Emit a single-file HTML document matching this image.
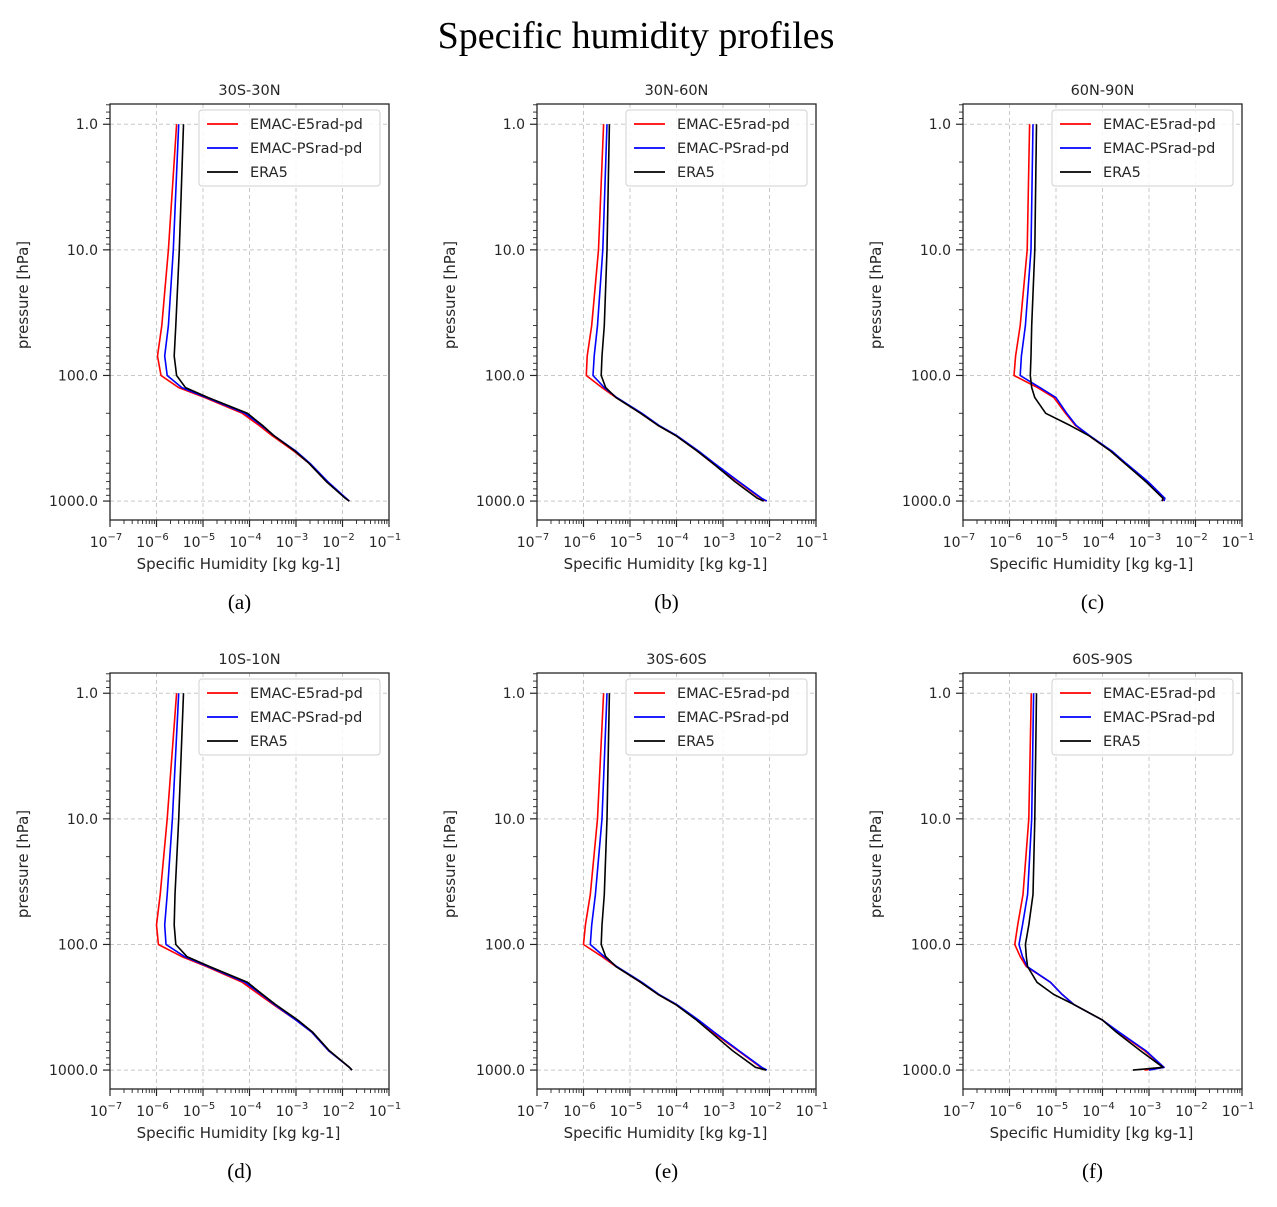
<!DOCTYPE html>
<html><head><meta charset="utf-8"><style>
html,body{margin:0;padding:0;background:#fff;}
svg text{font-family:"DejaVu Sans","Liberation Sans",sans-serif;fill:#262626;}
</style></head><body>
<svg id="fig" width="1277" height="1202" xmlns="http://www.w3.org/2000/svg">
<text x="636" y="48" text-anchor="middle" style="font-family:'Liberation Serif','DejaVu Serif',serif;font-size:38px;fill:#000">Specific humidity profiles</text>
</svg>
<script>
const levels = [1,10,40,70,100,125,150,200,250,300,400,500,700,950,1000];
const panelTitles = ["30S-30N","30N-60N","60N-90N","10S-10N","30S-60S","60S-90S"];
const panelLetters = ["(a)","(b)","(c)","(d)","(e)","(f)"];
const seriesNames = ["EMAC-E5rad-pd","EMAC-PSrad-pd","ERA5"];
const xTickExps = [-7,-6,-5,-4,-3,-2,-1];
const yTickLabels = ["1.0","10.0","100.0","1000.0"];
const yTickValues = [1,10,100,1000];
const aRed   = [2.7e-6,1.8e-6,1.3e-6,1.05e-6,1.25e-6,3.0e-6,1.1e-5,7e-5,1.6e-4,3.0e-4,9e-4,1.9e-3,4.5e-3,1.2e-2,1.4e-2];
const aBlue  = [3.0e-6,2.3e-6,1.8e-6,1.5e-6,1.7e-6,3.5e-6,1.2e-5,8e-5,1.8e-4,3.3e-4,1.0e-3,2.0e-3,4.8e-3,1.2e-2,1.4e-2];
const aBlack = [3.8e-6,3.1e-6,2.6e-6,2.4e-6,2.7e-6,4.2e-6,1.3e-5,9e-5,1.9e-4,3.3e-4,9.5e-4,1.9e-3,4.5e-3,1.15e-2,1.4e-2];
const bRed   = [2.7e-6,2.1e-6,1.5e-6,1.2e-6,1.15e-6,2.5e-6,5e-6,1.7e-5,4e-5,9.5e-5,2.8e-4,6e-4,2.1e-3,6.5e-3,8.5e-3];
const bBlue  = [3.2e-6,2.6e-6,2.0e-6,1.7e-6,1.6e-6,2.8e-6,5.2e-6,1.8e-5,4.2e-5,1.0e-4,3.0e-4,6.5e-4,2.2e-3,6.8e-3,8.8e-3];
const bBlack = [3.6e-6,3.2e-6,2.8e-6,2.5e-6,2.4e-6,3.0e-6,5e-6,1.7e-5,4e-5,9.5e-5,2.8e-4,6e-4,1.8e-3,5.5e-3,7.5e-3];
const cRed   = [2.7e-6,2.4e-6,1.7e-6,1.35e-6,1.25e-6,4e-6,9e-6,1.6e-5,2.6e-5,5e-5,1.5e-4,3e-4,9e-4,2.0e-3,2.0e-3];
const cBlue  = [3.2e-6,2.9e-6,2.2e-6,1.8e-6,1.7e-6,4.5e-6,1.0e-5,1.7e-5,2.7e-5,5.2e-5,1.6e-4,3.2e-4,9.5e-4,2.2e-3,2.1e-3];
const cBlack = [3.8e-6,3.5e-6,3.0e-6,2.9e-6,2.8e-6,3.0e-6,3.5e-6,6e-6,2.0e-5,5e-5,1.5e-4,3e-4,8.5e-4,2.0e-3,1.9e-3];
const dRed   = [2.7e-6,1.7e-6,1.2e-6,1.0e-6,1.1e-6,3.5e-6,1.2e-5,7e-5,1.6e-4,3.2e-4,1.0e-3,2.2e-3,5e-3,1.4e-2,1.6e-2];
const dBlue  = [3.0e-6,2.2e-6,1.7e-6,1.5e-6,1.6e-6,4e-6,1.3e-5,8e-5,1.8e-4,3.4e-4,1.0e-3,2.2e-3,5e-3,1.4e-2,1.6e-2];
const dBlack = [3.8e-6,3.0e-6,2.5e-6,2.4e-6,2.6e-6,4.5e-6,1.4e-5,9e-5,1.9e-4,3.6e-4,1.1e-3,2.3e-3,5.2e-3,1.4e-2,1.6e-2];
const eRed   = [2.7e-6,2.0e-6,1.4e-6,1.1e-6,1.0e-6,2.5e-6,5e-6,1.7e-5,4e-5,9.5e-5,2.8e-4,6e-4,2.1e-3,6.5e-3,8.5e-3];
const eBlue  = [3.2e-6,2.5e-6,1.8e-6,1.5e-6,1.4e-6,2.8e-6,5.2e-6,1.8e-5,4.2e-5,1.0e-4,3.0e-4,6.5e-4,2.2e-3,6.8e-3,8.8e-3];
const eBlack = [3.6e-6,3.2e-6,2.8e-6,2.5e-6,2.4e-6,3.0e-6,5e-6,1.7e-5,4e-5,9.5e-5,2.7e-4,5.5e-4,1.6e-3,5e-3,8.5e-3];
const fRed   = [2.95e-6,2.6e-6,1.95e-6,1.5e-6,1.3e-6,1.7e-6,2.3e-6,7.6e-6,1.35e-5,2.4e-5,1.0e-4,2.2e-4,8e-4,2.1e-3,8e-4];
const fBlue  = [3.3e-6,3.0e-6,2.45e-6,1.9e-6,1.6e-6,1.9e-6,2.4e-6,7.6e-6,1.35e-5,2.4e-5,1.0e-4,2.3e-4,8.5e-4,2.1e-3,1.0e-3];
const fBlack = [3.8e-6,3.5e-6,3.2e-6,2.6e-6,2.2e-6,2.3e-6,2.45e-6,3.9e-6,8.9e-6,2.4e-5,1.0e-4,2.0e-4,6.5e-4,2.0e-3,4.5e-4];
const panelData = [[aRed,aBlue,aBlack],[bRed,bBlue,bBlack],[cRed,cBlue,cBlack],[dRed,dBlue,dBlack],[eRed,eBlue,eBlack],[fRed,fBlue,fBlack]];
const seriesColors = ["#ff0000","#0000ff","#000000"];

const NS="http://www.w3.org/2000/svg";
const svg=document.getElementById('fig');
function mk(tag,attrs,parent){const e=document.createElementNS(NS,tag);for(const k in attrs)e.setAttribute(k,attrs[k]);(parent||svg).appendChild(e);return e;}
const W=279, H=416, colX=[110,537,963], rowY=[104,673];
const xMin=-7,xMax=-1;
const pTop=0.69,pBot=1415;
for(let i=0;i<6;i++){
  const x0=colX[i%3], y0=rowY[Math.floor(i/3)];
  const sx=q=>x0+(Math.log10(q)-xMin)/(xMax-xMin)*W;
  const sy=p=>y0+(Math.log10(p)-Math.log10(pTop))/(Math.log10(pBot)-Math.log10(pTop))*H;
  const g=mk('g',{});
  
  
  mk('rect',{x:x0,y:y0,width:W,height:H,fill:'#fff'},g);
  xTickExps.forEach(ex=>{const x=sx(Math.pow(10,ex));
    const l=mk('line',{x1:x,x2:x,y1:y0,y2:y0+H,stroke:'#c8c8c8','stroke-width':1,'stroke-dasharray':'4,3'},g);
    
    mk('line',{x1:x,x2:x,y1:y0+H,y2:y0+H+7,stroke:'#262626','stroke-width':1.2},g);
    const tx=mk('text',{x:x-4,y:y0+H+27,'text-anchor':'middle','font-size':'14'},g);
    
    tx.textContent='10';const sup=mk('tspan',{dy:-7,'font-size':'10'},tx);sup.textContent='\u2212'+(-ex);
    if(ex<xMax){for(let m=2;m<10;m++){const xm=sx(m*Math.pow(10,ex));mk('line',{x1:xm,x2:xm,y1:y0+H,y2:y0+H+4,stroke:'#262626','stroke-width':0.9},g);}}
  });
  yTickValues.forEach((p,k)=>{const y=sy(p);
    const l=mk('line',{x1:x0,x2:x0+W,y1:y,y2:y,stroke:'#c8c8c8','stroke-width':1,'stroke-dasharray':'4,3'},g);
    
    mk('line',{x1:x0-7,x2:x0,y1:y,y2:y,stroke:'#262626','stroke-width':1.2},g);
    const tx=mk('text',{x:x0-12,y:y+5,'text-anchor':'end','font-size':'14'},g);
    
    tx.textContent=yTickLabels[k];
  });
  [0.1,1,10,100,1000].forEach(d=>{for(let m=2;m<10;m++){const p=m*d;if(p<pTop||p>pBot)continue;const y=sy(p);mk('line',{x1:x0-4,x2:x0,y1:y,y2:y,stroke:'#262626','stroke-width':0.9},g);}});
  panelData[i].forEach((arr,s)=>{
    const pts=arr.map((q,j)=>sx(q).toFixed(1)+','+sy(levels[j]).toFixed(1)).join(' ');
    const pl=mk('polyline',{points:pts,fill:'none',stroke:seriesColors[s],'stroke-width':1.6,'stroke-linejoin':'round'},g);
    
    
  });
  mk('rect',{x:x0,y:y0,width:W,height:H,fill:'none',stroke:'#262626','stroke-width':1.3},g);
  const lg=mk('g',{},g);
  
  mk('rect',{x:x0+89,y:y0+6,width:181,height:76,rx:3,fill:'#fff','fill-opacity':0.85,stroke:'#d0d0d0','stroke-width':1},lg);
  seriesNames.forEach((n,s)=>{const yy=y0+20+s*24;
    mk('line',{x1:x0+97,x2:x0+128,y1:yy,y2:yy,stroke:seriesColors[s],'stroke-width':1.8},lg);
    const t=mk('text',{x:x0+140,y:yy+5,'font-size':'14.5'},lg);
    
    t.textContent=n;});
  const tt=mk('text',{x:x0+W/2,y:y0-9,'text-anchor':'middle','font-size':'14.5'},g);
  
  tt.textContent=panelTitles[i];
  const xl=mk('text',{x:x0+W/2-11,y:y0+H+49,'text-anchor':'middle','font-size':'15'},g);
  
  xl.textContent='Specific Humidity [kg kg-1]';
  const yl=mk('text',{x:0,y:0,'text-anchor':'middle','font-size':'15',transform:'translate('+(x0-82)+','+(y0+H/2-17)+') rotate(-90)'},g);
  
  yl.textContent='pressure [hPa]';
  const lt=mk('text',{x:x0+W/2-10,y:y0+H+89,'text-anchor':'middle','font-size':'21',style:"font-family:'Liberation Serif','DejaVu Serif',serif;fill:#000"},g);
  
  lt.textContent=panelLetters[i];
}
</script>
</body></html>
